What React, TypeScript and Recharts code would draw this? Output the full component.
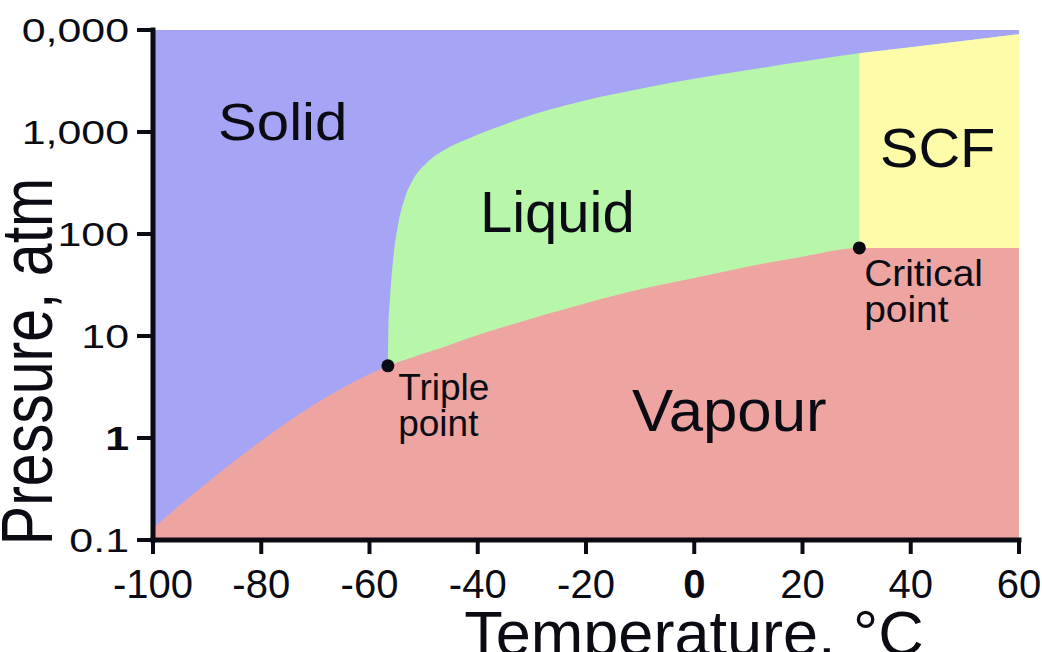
import React from "react";
import { ComposedChart, Area, Scatter, XAxis, YAxis, CartesianGrid, Label } from "recharts";

const C = { solid: "#a6a5f5", liquid: "#b8f7aa", vapour: "#eea5a1", scf: "#fefba9", ink: "#0b0b14" };
const FONT = '"Liberation Sans", Arial, Helvetica, sans-serif';

// solid / vapour (sublimation) boundary
const subT = [-100, -95, -90, -85, -80, -75, -70, -65, -60];
const subP = [0.13, 0.22, 0.364, 0.59, 0.935, 1.45, 2.17, 3.1, 4.23];

// triple point -> critical point: melting line (top) and boiling line (bottom)
const liqT = [-56.6, -56.5, -56.2, -55.7, -54.9, -53.4, -52, -49.4, -45.7, -42, -37.7, -32, -27, -20, -9, 0, 10, 20, 30.5];
const meltP = [5.1, 12, 24, 52, 109, 231, 338, 500, 690, 850, 1050, 1355, 1640, 2050, 2720, 3335, 4050, 4900, 5900];
const boilP = [5.1, 5.13, 5.2, 5.3, 5.5, 5.85, 6.2, 6.9, 8.0, 9.4, 11.2, 13.8, 16.5, 21, 29.5, 37, 48, 60, 73];

// supercritical region, above the critical pressure
const scfT = [30.5, 40, 50, 60];
const scfP = [5900, 6780, 7850, 9100];
const critP = 73;

const tempTicks = [-100, -80, -60, -40, -20, 0, 20, 40, 60];
const pressTicks = [0.1, 1, 10, 100, 1000, 10000];
const pressLabels = ["0.1", "1", "10", "100", "1,000", "0,000"];

const points = [
  { t: -56.6, p: 5.1 },
  { t: 30.5, p: 73 },
];

const regionLabels = [
  { t: -88, p: 836, lines: ["Solid"], size: 52, sx: 1.12 },
  { t: -39.6, p: 105, lines: ["Liquid"], size: 58, sx: 1 },
  { t: 34.3, p: 454, lines: ["SCF"], size: 55, sx: 1.05 },
  { t: -11.5, p: 1.17, lines: ["Vapour"], size: 60, sx: 1.03 },
  { t: -54.7, p: 2.36, lines: ["Triple", "point"], size: 37, sx: 1 },
  { t: 31.4, p: 30.9, lines: ["Critical", "point"], size: 37, sx: 1.05 },
];

// build the tables
const liquidData = [...liqT, ...scfT.slice(1)].map((t, i) => ({
  t,
  range: [0.1, i < meltP.length ? meltP[i] : scfP[i - meltP.length + 1]],
}));
const scfData = scfT.map((t, i) => ({ t, range: [0.1, scfP[i]] }));
const vapourData = [
  ...subT.map((t, i) => ({ t, range: [0.1, subP[i]] })),
  ...liqT.map((t, i) => ({ t, range: [0.1, boilP[i]] })),
  { t: 60, range: [0.1, critP] },
];

const XTick = (props: any) => {
  const { x, y, payload } = props;
  return (
    <text x={x} y={y + 42} textAnchor="middle" fontFamily={FONT} fontSize={40} fill={C.ink}
      fontWeight={payload.value === 0 ? 700 : 400}>
      {payload.value}
    </text>
  );
};

const YTick = (props: any) => {
  const { x, y, payload } = props;
  const i = pressTicks.indexOf(payload.value);
  return (
    <g transform={`translate(${x},${y}) scale(1.3,1)`}>
      <text x={0} y={0} dy="0.36em" textAnchor="end" fontFamily={FONT} fontSize={33} fill={C.ink}
        fontWeight={payload.value === 1 ? 700 : 400}>
        {pressLabels[i] ?? payload.value}
      </text>
    </g>
  );
};

const Dot = (props: any) => <circle cx={props.cx} cy={props.cy} r={6.5} fill={C.ink} />;

const RegionText = (props: any) => {
  const { cx, cy, payload } = props;
  return (
    <g transform={`translate(${cx},${cy}) scale(${payload.sx},1)`}>
      <text x={0} y={0} fontFamily={FONT} fontSize={payload.size} fill={C.ink}>
        {payload.lines.map((s: string, i: number) => (
          <tspan key={i} x={0} dy={i === 0 ? 0 : "0.98em"}>{s}</tspan>
        ))}
      </text>
    </g>
  );
};

export default function App() {
  const frame = { stroke: C.ink, strokeWidth: 5, strokeLinecap: "square" as const };
  return (
    <div style={{ position: "absolute", left: 0, top: 0, width: 1042, height: 652, overflow: "hidden", background: "#fff" }}>
      <ComposedChart width={1042} height={652} margin={{ top: 30, right: 23, bottom: 0, left: 0 }}>
        <CartesianGrid horizontal={false} vertical={false} fill={C.solid} />
        <XAxis dataKey="t" type="number" domain={[-100, 60]} ticks={tempTicks} allowDataOverflow
          height={112} tickSize={14} axisLine={frame} tickLine={{ stroke: C.ink, strokeWidth: 4 }} tick={<XTick />}>
          <Label content={(p: any) => {
            const vb = p.viewBox;
            return (
              <text x={vb.x + vb.width / 2 + 108} y={vb.y + 115} textAnchor="middle" fontFamily={FONT} fontSize={63} fill={C.ink}>
                Temperature, °C
              </text>
            );
          }} />
        </XAxis>
        <XAxis xAxisId="top" orientation="top" type="number" domain={[-100, 60]} height={0} tick={false} tickLine={false} axisLine={frame} />
        <YAxis dataKey="p" scale="log" type="number" domain={[0.1, 10000]} ticks={pressTicks} allowDataOverflow
          width={153} tickSize={16} tickMargin={8} axisLine={frame} tickLine={{ stroke: C.ink, strokeWidth: 4 }} tick={<YTick />}>
          <Label content={(p: any) => {
            const vb = p.viewBox;
            return (
              <g transform={`translate(52,${vb.y + vb.height * 0.65}) rotate(-90) scale(0.82,1)`}>
                <text x={0} y={0} textAnchor="middle" fontFamily={FONT} fontSize={72} fill={C.ink}>
                  Pressure, atm
                </text>
              </g>
            );
          }} />
        </YAxis>
        <YAxis yAxisId="right" orientation="right" type="number" domain={[0, 1]} width={0} tick={false} tickLine={false} axisLine={frame} />

        <Area data={liquidData} dataKey="range" type="monotone" fill={C.liquid} fillOpacity={1} stroke="none" isAnimationActive={false} />
        <Area data={scfData} dataKey="range" type="monotone" fill={C.scf} fillOpacity={1} stroke="none" isAnimationActive={false} />
        <Area data={vapourData} dataKey="range" type="monotone" fill={C.vapour} fillOpacity={1} stroke="none" isAnimationActive={false} />

        <Scatter data={points} dataKey="p" shape={<Dot />} isAnimationActive={false} />
        <Scatter data={regionLabels} dataKey="p" shape={<RegionText />} isAnimationActive={false} />
      </ComposedChart>
    </div>
  );
}
